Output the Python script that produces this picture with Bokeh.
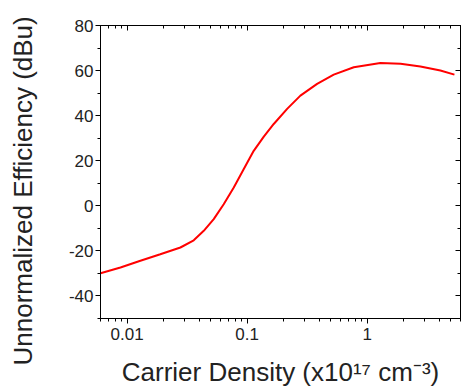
from bokeh.plotting import figure
from bokeh.models import (FixedTicker, LinearAxis, LogAxis, CustomJSTickFormatter, Title)
from bokeh.embed import file_html
from bokeh.resources import INLINE

# Data
density = [0.006, 0.0088, 0.0129, 0.0189, 0.0278, 0.0359, 0.0435, 0.0527,
           0.0638, 0.0774, 0.0938, 0.1135, 0.1377, 0.1667, 0.2155, 0.278,
           0.383, 0.527, 0.774, 1.29, 1.90, 2.78, 4.08, 5.34]
efficiency = [-29.9, -27.4, -24.4, -21.5, -18.5, -15.3, -11.1, -5.9,
              0.7, 8.1, 16.3, 24.4, 30.7, 36.3, 43.0, 48.9,
              54.1, 58.2, 61.5, 63.4, 63.0, 61.8, 60.0, 58.2]

x_major = [0.01, 0.1, 1]
x_minor = [0.006, 0.007, 0.008, 0.009,
           0.02, 0.03, 0.04, 0.05, 0.06, 0.07, 0.08, 0.09,
           0.2, 0.3, 0.4, 0.5, 0.6, 0.7, 0.8, 0.9,
           2, 3, 4, 5, 6]
y_major = [-40, -20, 0, 20, 40, 60, 80]
y_minor = [-50, -30, -10, 10, 30, 50, 70]

y_title = "Unnormalized Efficiency (dBu)"
x_title = "Carrier Density (x10\u00b9\u2077 cm\u207b\u00b3)"

FONT = "Liberation Sans"
TXT = "#222222"

p = figure(width=463, height=390, x_axis_type="log",
           x_range=(0.006, 6), y_range=(-50, 80),
           output_backend="svg", toolbar_location=None,
           min_border_left=100, min_border_top=25,
           min_border_right=3, min_border_bottom=72)

p.grid.visible = False
p.outline_line_color = "black"
p.outline_line_width = 1

p.line(density, efficiency, line_color="#ff0000", line_width=2)

fmt = CustomJSTickFormatter(code="return tick.toString();")

xa = p.xaxis[0]
xa.ticker = FixedTicker(ticks=x_major, minor_ticks=x_minor)
xa.formatter = fmt
xa.axis_label = x_title
xa.axis_label_standoff = 14
xa.axis_label_text_font = FONT
xa.axis_label_text_font_size = "26px"
xa.axis_label_text_font_style = "normal"
xa.axis_label_text_color = TXT

ya = p.yaxis[0]
ya.ticker = FixedTicker(ticks=y_major, minor_ticks=y_minor)
ya.formatter = fmt

for ax in (xa, ya):
    ax.major_tick_in = 0
    ax.major_tick_out = 5
    ax.minor_tick_in = 0
    ax.minor_tick_out = 3
    ax.axis_line_color = "black"
    ax.major_tick_line_color = "black"
    ax.minor_tick_line_color = "black"
    ax.major_label_text_font = FONT
    ax.major_label_text_font_size = "17px"
    ax.major_label_text_color = TXT
ya.major_label_standoff = 2
xa.major_label_standoff = 4

top = LogAxis(ticker=FixedTicker(ticks=x_major, minor_ticks=x_minor),
              major_tick_in=5, major_tick_out=0, minor_tick_in=3, minor_tick_out=0,
              major_label_text_color=None, major_label_text_font_size="1px",
              major_label_standoff=0, axis_line_color="black")
right = LinearAxis(ticker=FixedTicker(ticks=y_major, minor_ticks=y_minor),
                   major_tick_in=5, major_tick_out=0, minor_tick_in=3, minor_tick_out=0,
                   major_label_text_color=None, major_label_text_font_size="1px",
                   major_label_standoff=0, axis_line_color="black")
p.add_layout(top, "above")
p.add_layout(right, "right")

# invisible spacer axis between the tick labels and the y title
spacer = LinearAxis(ticker=FixedTicker(ticks=[0], minor_ticks=[]),
                    major_tick_in=0, major_tick_out=27,
                    minor_tick_in=0, minor_tick_out=0, major_label_standoff=0,
                    major_label_text_font_size="1px", major_label_text_color=None,
                    axis_line_color=None, major_tick_line_color=None,
                    minor_tick_line_color=None)
p.add_layout(spacer, "left")

# y-axis title as a side title so it can be shifted along the axis
p.add_layout(Title(text=y_title, align="left", offset=-47, standoff=2,
                   text_font=FONT, text_font_size="26px",
                   text_font_style="normal", text_color=TXT), "left")

open("out.html", "w").write(file_html(p, INLINE))
